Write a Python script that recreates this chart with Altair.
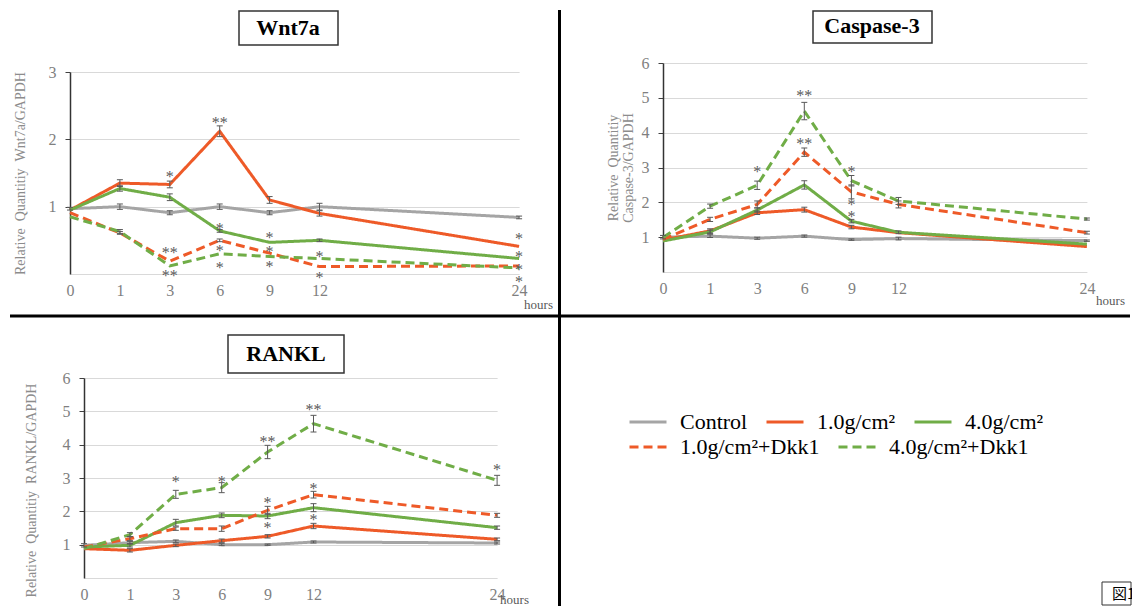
import altair as alt
import pandas as pd

SERIF = "Liberation Serif"
EB = "#595959"

hours = [0, 1, 3, 6, 9, 12, 24]
hour_slots = [0, 1, 2, 3, 4, 5, 9]  # tick spacing of the category-like hour axis
series = ["Control", "1.0g/cm²", "4.0g/cm²", "1.0g/cm²+Dkk1", "4.0g/cm²+Dkk1"]
colors = ["#A5A5A5", "#EE5A28", "#70AD47", "#EE5A28", "#70AD47"]
dashes = [[1, 0], [1, 0], [1, 0], [9, 5], [9, 5]]

# ---- Wnt7a ----
wnt_control = [0.97, 1.00, 0.91, 1.00, 0.91, 1.00, 0.84]
wnt_10 = [0.95, 1.35, 1.33, 2.12, 1.10, 0.90, 0.41]
wnt_40 = [0.95, 1.27, 1.14, 0.64, 0.47, 0.50, 0.23]
wnt_10d = [0.91, 0.61, 0.19, 0.50, 0.31, 0.11, 0.12]
wnt_40d = [0.85, 0.63, 0.12, 0.30, 0.26, 0.23, 0.09]
wnt_err = [
    [0.02, 0.04, 0.03, 0.04, 0.03, 0.05, 0.02],
    [0.00, 0.05, 0.05, 0.08, 0.05, 0.04, 0.00],
    [0.00, 0.04, 0.05, 0.02, 0.00, 0.02, 0.00],
    [0.00, 0.02, 0.00, 0.02, 0.00, 0.00, 0.00],
    [0.00, 0.03, 0.00, 0.00, 0.00, 0.00, 0.00],
]
wnt_star_hour = [3, 6, 3, 3, 6, 6, 6, 9, 9, 9, 12, 12, 24, 24, 24, 24]
wnt_star_val = [1.49, 2.29, 0.36, 0.01, 0.72, 0.38, 0.13, 0.58, 0.37, 0.15, 0.29, -0.02, 0.57, 0.30, 0.10, -0.07]
wnt_star_txt = ["*", "**", "**", "**", "*", "*", "*", "*", "*", "*", "*", "*", "*", "*", "*", "*"]

# ---- Caspase-3 ----
cas_control = [1.00, 1.03, 0.97, 1.03, 0.93, 0.96, 0.90]
cas_10 = [0.92, 1.18, 1.70, 1.79, 1.29, 1.13, 0.73]
cas_40 = [0.89, 1.15, 1.78, 2.50, 1.46, 1.14, 0.80]
cas_10d = [0.94, 1.51, 1.94, 3.44, 2.30, 1.94, 1.13]
cas_40d = [0.99, 1.89, 2.49, 4.62, 2.62, 2.04, 1.52]
cas_err = [
    [0.05, 0.04, 0.03, 0.03, 0.02, 0.04, 0.02],
    [0.00, 0.06, 0.05, 0.07, 0.05, 0.00, 0.00],
    [0.00, 0.05, 0.06, 0.12, 0.05, 0.04, 0.00],
    [0.00, 0.06, 0.10, 0.12, 0.20, 0.10, 0.04],
    [0.00, 0.06, 0.12, 0.25, 0.15, 0.10, 0.03],
]
cas_star_hour = [3, 6, 6, 9, 9, 9]
cas_star_val = [2.95, 5.13, 3.76, 2.95, 2.02, 1.66]
cas_star_txt = ["*", "**", "**", "*", "*", "*"]

# ---- RANKL ----
rank_control = [0.98, 1.06, 1.10, 1.00, 1.00, 1.08, 1.05]
rank_10 = [0.88, 0.83, 0.98, 1.12, 1.25, 1.56, 1.16]
rank_40 = [0.93, 0.98, 1.66, 1.88, 1.86, 2.11, 1.51]
rank_10d = [0.93, 1.18, 1.48, 1.48, 2.03, 2.50, 1.88]
rank_40d = [0.88, 1.30, 2.51, 2.71, 3.78, 4.63, 2.93]
rank_err = [
    [0.05, 0.04, 0.04, 0.03, 0.02, 0.03, 0.03],
    [0.00, 0.05, 0.04, 0.05, 0.05, 0.08, 0.04],
    [0.00, 0.05, 0.10, 0.07, 0.08, 0.12, 0.05],
    [0.00, 0.06, 0.05, 0.08, 0.12, 0.10, 0.06],
    [0.00, 0.06, 0.12, 0.15, 0.20, 0.25, 0.15],
]
rank_star_hour = [3, 6, 9, 9, 9, 12, 12, 12, 24]
rank_star_val = [2.96, 2.98, 4.16, 2.33, 1.58, 5.13, 2.76, 1.83, 3.33]
rank_star_txt = ["*", "*", "**", "*", "*", "**", "*", "*", "*"]


def frame(vals, errs):
    rows = []
    for s, v, e in zip(series, vals, errs):
        for h, y, err in zip(hours, v, e):
            rows.append({"hour": h, "value": y, "series": s,
                         "lo": y - err, "hi": y + err, "err": err})
    return pd.DataFrame(rows)


color_scale = alt.Scale(domain=series, range=colors)
dash_scale = alt.Scale(domain=series, range=dashes)
one = pd.DataFrame({"k": [0]})
NOVIEW = alt.ViewBackground(stroke="transparent", strokeWidth=0)


def panel(title, vals, errs, sh, sv, st, W, H, x0, u, yr, ymax,
          box, txt_pos, ytitle, ypad, ytitle_y, hours_pos):
    df = frame(vals, errs)
    stars = pd.DataFrame({"hour": sh, "value": sv, "label": st})
    xrange = [x0 + u * k for k in hour_slots]
    xs = alt.Scale(domain=hours, range=xrange, zero=False, nice=False)
    ys = alt.Scale(domain=[0, ymax], range=yr, zero=False, nice=False)
    xaxis = alt.Axis(values=hours, grid=False, ticks=False, tickSize=0,
                     domainColor="#d9d9d9", domainWidth=1,
                     labelFont=SERIF, labelFontSize=16, labelColor="#7f7f7f",
                     labelPadding=8, labelFlush=False, labelOverlap=False,
                     offset=-(H - yr[0]), title="hours",
                     titleX=hours_pos[0], titleY=hours_pos[1],
                     titleAlign="center", titleBaseline="middle",
                     titleFont=SERIF, titleFontSize=13, titleFontWeight="normal",
                     titleColor="#595959")
    yargs = dict(values=list(range(1, ymax + 1)), grid=True, gridColor="#d9d9d9",
                 gridWidth=1, domainColor="#333333", domainWidth=1.5,
                 tickColor="#404040", tickSize=5, labelPadding=9,
                 labelFont=SERIF, labelFontSize=16, labelColor="#7f7f7f",
                 offset=-x0, title=ytitle, titleFont=SERIF, titleFontSize=14,
                 titleFontWeight="normal", titleColor="#8c8c8c",
                 titlePadding=ypad, titleLineHeight=15)
    if ytitle_y is not None:
        yargs["titleY"] = ytitle_y
    yaxis = alt.Axis(**yargs)

    def X():
        return alt.X("hour:Q", scale=xs, axis=xaxis)

    def Y(f):
        return alt.Y(f + ":Q", scale=ys, axis=yaxis)

    lines = alt.Chart(df).mark_line(strokeWidth=3).encode(
        x=X(), y=Y("value"),
        color=alt.Color("series:N", scale=color_scale, legend=None),
        strokeDash=alt.StrokeDash("series:N", scale=dash_scale, legend=None),
    )
    eb = alt.Chart(df).transform_filter("datum.err > 0")
    rules = eb.mark_rule(color=EB, strokeWidth=1).encode(x=X(), y=Y("lo"), y2="hi:Q")
    cap_lo = eb.mark_point(shape="stroke", size=36, color=EB, strokeWidth=1,
                           opacity=1).encode(x=X(), y=Y("lo"))
    cap_hi = eb.mark_point(shape="stroke", size=36, color=EB, strokeWidth=1,
                           opacity=1).encode(x=X(), y=Y("hi"))
    star = alt.Chart(stars).mark_text(font=SERIF, fontSize=16, color=EB,
                                      baseline="middle", dy=3).encode(
        x=X(), y=Y("value"), text="label:N")
    tdf = pd.DataFrame({"t": [title]})
    tbox = alt.Chart(tdf).mark_rect(fill="white", stroke="#333333", strokeWidth=1.5).encode(
        x=alt.value(box[0]), x2=alt.value(box[1]), y=alt.value(box[2]), y2=alt.value(box[3]))
    ttxt = alt.Chart(tdf).mark_text(font=SERIF, fontSize=22, fontWeight="bold",
                                    color="black", baseline="middle").encode(
        x=alt.value(txt_pos[0]), y=alt.value(txt_pos[1]), text="t:N")
    return [lines, rules, cap_lo, cap_hi, star, tbox, ttxt]


def vrule(x, y1, y2):
    return alt.Chart(one).mark_rule(color="black", strokeWidth=3).encode(
        x=alt.value(x), y=alt.value(y1), y2=alt.value(y2))


def hrule(y, x1, x2):
    return alt.Chart(one).mark_rule(color="black", strokeWidth=3).encode(
        y=alt.value(y), x=alt.value(x1), x2=alt.value(x2))


W1, W2, H1, H2 = 550, 572, 306, 290

A = alt.layer(
    *panel("Wnt7a", [wnt_control, wnt_10, wnt_40, wnt_10d, wnt_40d], wnt_err,
           wnt_star_hour, wnt_star_val, wnt_star_txt,
           W1, H1, 60, 49.9, [264, 62], 3,
           [229, 328, 1, 35], [278, 18],
           "Relative\u2002Quantitiy\u2002Wnt7a/GAPDH", 21, None, [528, 30]),
    vrule(549.5, 0, H1), hrule(H1, 0, W1),
).properties(width=W1, height=H1, view=NOVIEW)

B = alt.layer(
    *panel("Caspase-3", [cas_control, cas_10, cas_40, cas_10d, cas_40d], cas_err,
           cas_star_hour, cas_star_val, cas_star_txt,
           W2, H1, 103, 47.1, [262, 53], 6,
           [253, 372, 1, 33], [312, 16],
           ["Relative\u2002Quantitiy", "Caspase-3/GAPDH"], 6, None, [550, 28]),
    hrule(H1, 0, W2 - 2),
).properties(width=W2, height=H1, view=NOVIEW)

C = alt.layer(
    *panel("RANKL", [rank_control, rank_10, rank_40, rank_10d, rank_40d], rank_err,
           rank_star_hour, rank_star_val, rank_star_txt,
           W1, H2, 74, 45.9, [262, 62], 6,
           [218, 334, 19, 57], [276, 38],
           "Relative\u2002Quantitiy\u2002RANKL/GAPDH", 24, 174, [504, 21]),
    vrule(549.5, 0, H2),
).properties(width=W1, height=H2, view=NOVIEW)


def legend_def(y):
    return alt.Legend(title=None, orient="none", legendX=68, legendY=y,
                      direction="horizontal", symbolType="stroke",
                      symbolSize=1369, symbolStrokeWidth=3, labelFont=SERIF,
                      labelFontSize=22, labelColor="black", labelOffset=12,
                      columnPadding=12, labelLimit=400)


rank_df = frame([rank_control, rank_10, rank_40, rank_10d, rank_40d], rank_err)
leg_empty = alt.Chart(rank_df).transform_filter("false")
solid_leg = leg_empty.mark_line(strokeWidth=3).encode(
    x=alt.X("hour:Q", axis=None), y=alt.Y("value:Q", axis=None),
    color=alt.Color("series:N", scale=alt.Scale(domain=series[:3], range=colors[:3]),
                    legend=legend_def(86)),
)
dashed_leg = leg_empty.mark_line(strokeWidth=3).encode(
    x=alt.X("hour:Q", axis=None), y=alt.Y("value:Q", axis=None),
    color=alt.Color("series:N", scale=alt.Scale(domain=series[3:], range=colors[3:]),
                    legend=legend_def(111)),
    strokeDash=alt.StrokeDash("series:N", scale=alt.Scale(domain=series[3:], range=dashes[3:]),
                              legend=legend_def(111)),
)
fig = pd.DataFrame({"t": ["図16"]})
fig_box = alt.Chart(fig).mark_rect(fill="white", stroke="#333333", strokeWidth=1, clip=True).encode(
    x=alt.value(542), x2=alt.value(571), y=alt.value(266), y2=alt.value(289))
fig_txt = alt.Chart(fig).mark_text(font="Noto Sans CJK JP", fontSize=15, color="black",
                                   align="left", baseline="middle", clip=True).encode(
    x=alt.value(552), y=alt.value(278), text="t:N")
D = alt.layer(solid_leg, dashed_leg, fig_box, fig_txt).resolve_scale(
    color="independent", strokeDash="independent"
).resolve_legend(
    color="independent", strokeDash="independent"
).properties(width=W2, height=H2, view=NOVIEW)

chart = alt.concat(A, B, C, D, columns=2, spacing=0, bounds="flush", align="each").resolve_scale(
    color="independent", strokeDash="independent"
).resolve_legend(
    color="independent", strokeDash="independent"
).properties(padding=0).configure_view(stroke="transparent", strokeWidth=0).configure(font=SERIF)

chart.save("out.html", embed_options={"renderer": "svg", "actions": False})
